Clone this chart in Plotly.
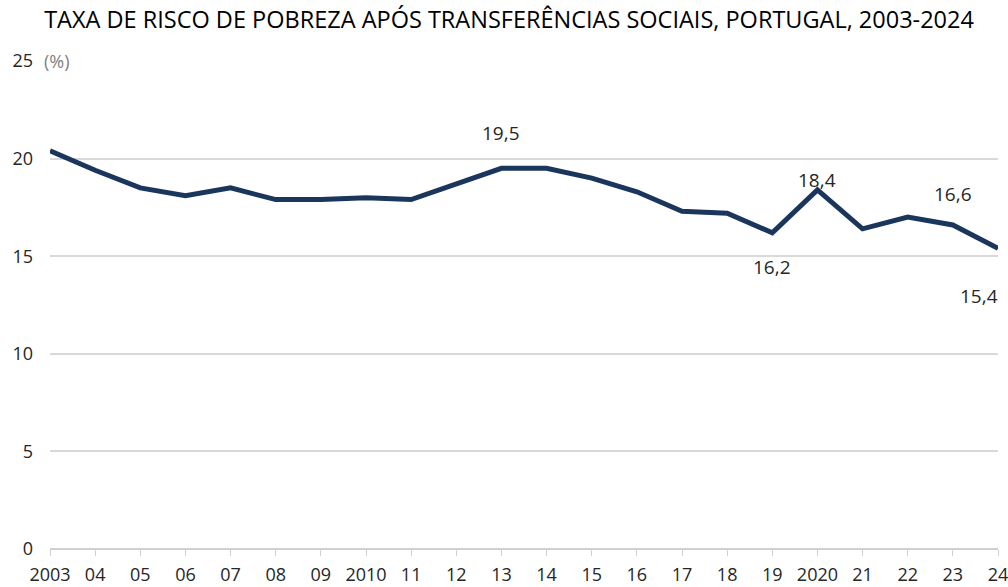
import plotly.graph_objects as go

years = list(range(2003, 2025))
rate = [20.4, 19.4, 18.5, 18.1, 18.5, 17.9, 17.9, 18.0, 17.9, 18.7, 19.5,
        19.5, 19.0, 18.3, 17.3, 17.2, 16.2, 18.4, 16.4, 17.0, 16.6, 15.4]
tick_text = ["2003", "04", "05", "06", "07", "08", "09", "2010", "11", "12", "13",
             "14", "15", "16", "17", "18", "19", "2020", "21", "22", "23", "24"]
labelled_years = [2013, 2019, 2020, 2023, 2024]

# pixel offsets of the value labels (style only)
label_shift = {2013: (0, 35), 2019: (0, -34), 2020: (0, 10), 2023: (0, 31), 2024: (-19, -48)}

FONT = "Open Sans, Liberation Sans, sans-serif"
TXT = "#262626"

fig = go.Figure()
fig.add_trace(go.Scatter(x=years, y=rate, mode="lines",
                         line=dict(color="#1B365D", width=5),
                         hoverinfo="skip", showlegend=False, cliponaxis=False))

for yr in labelled_years:
    v = rate[years.index(yr)]
    dx, dy = label_shift[yr]
    fig.add_annotation(x=yr, y=v, text=f"{v:.1f}".replace(".", ","),
                       showarrow=False, xanchor="center", yanchor="middle",
                       xshift=dx, yshift=dy,
                       font=dict(family=FONT, size=19, color=TXT))

fig.add_annotation(xref="paper", yref="y", x=0, y=25, text="(%)",
                   showarrow=False, xanchor="left", yanchor="middle",
                   xshift=-8, bgcolor="white",
                   font=dict(family=FONT, size=18, color="#7f7f7f"))

fig.update_layout(
    width=1008, height=587,
    margin=dict(l=50, r=10, t=61, b=38),
    paper_bgcolor="white", plot_bgcolor="white",
    title=dict(text="TAXA DE RISCO DE POBREZA APÓS TRANSFERÊNCIAS SOCIAIS, PORTUGAL, 2003-2024",
               x=0.505, xanchor="center", y=0.966, yanchor="middle",
               font=dict(family=FONT, size=23.5, color="#000000")),
    xaxis=dict(range=[2003, 2024], tickvals=years, ticktext=tick_text,
               showgrid=False, zeroline=False, showline=False, automargin=False,
               ticks="outside", ticklen=6, tickcolor="#d0d0d0",
               ticklabelstandoff=3, ticklabeloverflow="allow",
               tickfont=dict(family=FONT, size=18, color=TXT)),
    yaxis=dict(range=[0, 25], tickvals=[0, 5, 10, 15, 20, 25],
               showgrid=True, gridcolor="#d9d9d9", gridwidth=1.5,
               zeroline=True, zerolinecolor="#d0d0d0", zerolinewidth=1.5,
               showline=False, ticks="", ticklabelstandoff=16, automargin=False,
               tickfont=dict(family=FONT, size=18, color=TXT)),
)

fig.write_html("out.html", config={"displayModeBar": False},
               post_script="document.body.style.margin='0';document.body.style.overflow='hidden';")
